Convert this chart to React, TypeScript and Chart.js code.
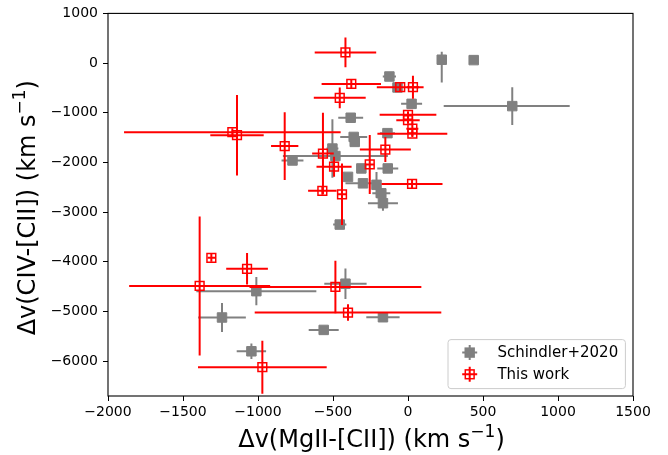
import React, { useEffect, useRef } from 'react';
import { Chart, registerables } from 'chart.js';

Chart.register(...registerables);

// ---- Data: Schindler+2020 (gray) ----
const schX = [225, 438, 695, -124, -70, 24, -382, -137, -362, -355, -504, -484, -770, -311, -135, -400, -300, -210, -178, -167, -455, -1011, -417, -1240, -562, -167, -1044];
const schY = [68, 60, -866, -270, -490, -820, -1100, -1410, -1486, -1586, -1720, -1870, -1960, -2120, -2120, -2290, -2420, -2450, -2620, -2820, -3250, -4590, -4440, -5120, -5370, -5115, -5800];
const schXErrLo = [0, 0, 457, 44, 0, 70, 83, 50, 90, 0, 40, 350, 73, 30, 70, 0, 117, 0, 60, 100, 44, 400, 141, 159, 100, 111, 98];
const schXErrHi = [0, 0, 383, 44, 0, 70, 83, 50, 90, 0, 40, 350, 73, 30, 70, 0, 117, 0, 60, 100, 44, 400, 141, 159, 100, 111, 98];
const schYErrLo = [460, 0, 380, 0, 0, 0, 0, 0, 0, 0, 590, 0, 0, 0, 0, 0, 0, 260, 0, 150, 0, 283, 307, 290, 0, 0, 157];
const schYErrHi = [160, 0, 380, 0, 0, 0, 0, 0, 0, 0, 590, 0, 0, 0, 0, 0, 0, 260, 0, 150, 0, 283, 307, 290, 0, 0, 157];

// ---- Data: This work (red) ----
const twX = [-417, -378, -455, -52, 33, 0, 0, 29, 29, -1171, -1140, -822, -567, -493, -571, -440, -255, -151, 27, -1311, -1073, -1389, -484, -400, -971];
const twY = [214, -420, -700, -486, -486, -1040, -1150, -1320, -1420, -1390, -1450, -1670, -1820, -2086, -2570, -2640, -2040, -1740, -2433, -3920, -4140, -4486, -4506, -5020, -6120];
const twXErr = [205, 198, 173, 156, 40, 189, 78, 40, 233, 722, 178, 91, 72, 117, 95, 30, 30, 170, 203, 25, 139, 470, 573, 622, 429];
const twYErr = [300, 80, 210, 80, 233, 70, 70, 150, 70, 80, 810, 683, 820, 200, 80, 620, 593, 250, 80, 80, 316, 1400, 527, 167, 533];

// ---- Axes ----
const X_MIN = -2000;
const X_MAX = 1500;
const Y_MIN = -6700;
const Y_MAX = 1000;
const X_TICKS = [-2000, -1500, -1000, -500, 0, 500, 1000, 1500];
const Y_TICKS = [1000, 0, -1000, -2000, -3000, -4000, -5000, -6000];

const LEGEND_LABELS = ['Schindler+2020', 'This work'];
const X_TITLE = ['\u0394v(MgII-[CII]) (km s', '\u22121', ')'];
const Y_TITLE = ['\u0394v(CIV-[CII]) (km s', '\u22121', ')'];

const GRAY = '#808080';
const RED = '#ff0000';
const FONT = '"DejaVu Sans", sans-serif';

const fmt = (v: number) => (v < 0 ? '\u2212' + Math.abs(v) : String(v));

const errorBarPlugin = {
  id: 'errorBars',
  beforeDatasetDraw(chart: any, args: any) {
    const ds = chart.data.datasets[args.index];
    const err = ds.errors;
    if (!err) return;
    const xs = chart.scales.x;
    const ys = chart.scales.y;
    const ctx = chart.ctx;
    const a = chart.chartArea;
    ctx.save();
    ctx.beginPath();
    ctx.rect(a.left, a.top, a.right - a.left, a.bottom - a.top);
    ctx.clip();
    ctx.strokeStyle = ds.borderColor;
    ctx.lineWidth = 2;
    ctx.lineCap = 'butt';
    ds.data.forEach((p: any, i: number) => {
      const px = xs.getPixelForValue(p.x);
      const py = ys.getPixelForValue(p.y);
      const xl = err.xLo[i];
      const xh = err.xHi[i];
      const lo = err.yLo[i];
      const hi = err.yHi[i];
      if (xl > 0 || xh > 0) {
        ctx.beginPath();
        ctx.moveTo(xs.getPixelForValue(p.x - xl), py);
        ctx.lineTo(xs.getPixelForValue(p.x + xh), py);
        ctx.stroke();
      }
      if (lo > 0 || hi > 0) {
        ctx.beginPath();
        ctx.moveTo(px, ys.getPixelForValue(p.y - lo));
        ctx.lineTo(px, ys.getPixelForValue(p.y + hi));
        ctx.stroke();
      }
    });
    ctx.restore();
  },
};

function drawTitle(ctx: CanvasRenderingContext2D, parts: string[], size: number) {
  const big = `${size}px ${FONT}`;
  const small = `${Math.round(size * 0.7)}px ${FONT}`;
  ctx.font = big;
  const w1 = ctx.measureText(parts[0]).width;
  const w3 = ctx.measureText(parts[2]).width;
  ctx.font = small;
  const w2 = ctx.measureText(parts[1]).width;
  const total = w1 + w2 + w3;
  let x = -total / 2;
  ctx.textAlign = 'left';
  ctx.textBaseline = 'alphabetic';
  ctx.font = big;
  ctx.fillText(parts[0], x, 0);
  x += w1;
  ctx.font = small;
  ctx.fillText(parts[1], x, -size * 0.42);
  x += w2;
  ctx.font = big;
  ctx.fillText(parts[2], x, 0);
}

const decorPlugin = {
  id: 'decor',
  afterDatasetsDraw(chart: any) {
    const ctx = chart.ctx as CanvasRenderingContext2D;
    const a = chart.chartArea;
    // frame
    ctx.save();
    ctx.strokeStyle = '#000';
    ctx.lineWidth = 1.1;
    ctx.strokeRect(a.left, a.top, a.right - a.left, a.bottom - a.top);
    ctx.restore();

    // legend
    ctx.save();
    const lw = 177.4;
    const lh = 49;
    const lx = a.right - 7.6 - lw;
    const ly = a.bottom - 7.4 - lh;
    ctx.beginPath();
    (ctx as any).roundRect(lx, ly, lw, lh, 3);
    ctx.fillStyle = 'rgba(255,255,255,0.8)';
    ctx.fill();
    ctx.strokeStyle = '#cccccc';
    ctx.lineWidth = 1;
    ctx.stroke();
    const mx = lx + 21.7;
    const rows = [ly + 13, ly + 34.7];
    const colors = [GRAY, RED];
    rows.forEach((ry, i) => {
      ctx.strokeStyle = colors[i];
      ctx.lineWidth = 2;
      ctx.beginPath();
      ctx.moveTo(mx - 7.5, ry);
      ctx.lineTo(mx + 7.5, ry);
      ctx.moveTo(mx, ry - 7.5);
      ctx.lineTo(mx, ry + 7.5);
      ctx.stroke();
      if (i === 0) {
        ctx.fillStyle = GRAY;
        ctx.fillRect(mx - 5.2, ry - 5.2, 10.4, 10.4);
      } else {
        ctx.lineWidth = 1.5;
        ctx.strokeRect(mx - 4.4, ry - 4.4, 8.8, 8.8);
      }
      ctx.fillStyle = '#000';
      ctx.font = `15px ${FONT}`;
      ctx.textAlign = 'left';
      ctx.textBaseline = 'middle';
      ctx.fillText(LEGEND_LABELS[i], lx + 49.4, ry + 1);
    });
    ctx.restore();

    // axis titles
    ctx.save();
    ctx.fillStyle = '#000';
    ctx.translate((a.left + a.right) / 2 + 1, 447);
    drawTitle(ctx, X_TITLE, 24);
    ctx.restore();

    ctx.save();
    ctx.fillStyle = '#000';
    ctx.translate(35, (a.top + a.bottom) / 2 + 3);
    ctx.rotate(-Math.PI / 2);
    drawTitle(ctx, Y_TITLE, 24);
    ctx.restore();
  },
};

export default function App() {
  const ref = useRef<HTMLCanvasElement | null>(null);
  useEffect(() => {
    if (!ref.current) return;
    const schData = schX.map((x, i) => ({ x, y: schY[i] }));
    const twData = twX.map((x, i) => ({ x, y: twY[i] }));
    const chart = new Chart(ref.current, {
      type: 'scatter',
      data: {
        datasets: [
          {
            label: LEGEND_LABELS[0],
            data: schData,
            order: 2,
            pointStyle: 'rect',
            pointRadius: 6.7,
            pointHoverRadius: 6.7,
            backgroundColor: GRAY,
            borderColor: GRAY,
            borderWidth: 1,
            errors: { xLo: schXErrLo, xHi: schXErrHi, yLo: schYErrLo, yHi: schYErrHi },
          } as any,
          {
            label: LEGEND_LABELS[1],
            data: twData,
            order: 1,
            pointStyle: 'rect',
            pointRadius: 6.2,
            pointHoverRadius: 6.2,
            backgroundColor: 'rgba(0,0,0,0)',
            borderColor: RED,
            borderWidth: 1.5,
            errors: { xLo: twXErr, xHi: twXErr, yLo: twYErr, yHi: twYErr },
          } as any,
        ],
      },
      options: {
        responsive: false,
        animation: false,
        events: [],
        layout: { padding: { top: 11, right: 35, left: 0, bottom: 0 } },
        plugins: {
          legend: { display: false },
          tooltip: { enabled: false },
          title: { display: false },
        },
        scales: {
          x: {
            type: 'linear',
            min: X_MIN,
            max: X_MAX,
            afterBuildTicks: (s: any) => {
              s.ticks = X_TICKS.map((v) => ({ value: v }));
            },
            afterFit: (s: any) => {
              s.height = 59;
            },
            border: { display: false },
            grid: {
              drawOnChartArea: false,
              drawTicks: true,
              tickLength: 5,
              tickColor: '#000',
              tickWidth: 1,
            },
            ticks: {
              autoSkip: false,
              maxRotation: 0,
              color: '#000',
              padding: 3,
              font: { family: FONT, size: 14 },
              callback: (v: any) => fmt(Number(v)),
            },
          },
          y: {
            type: 'linear',
            min: Y_MIN,
            max: Y_MAX,
            afterBuildTicks: (s: any) => {
              s.ticks = Y_TICKS.map((v) => ({ value: v }));
            },
            afterFit: (s: any) => {
              s.width = 108;
            },
            border: { display: false },
            grid: {
              drawOnChartArea: false,
              drawTicks: true,
              tickLength: 5,
              tickColor: '#000',
              tickWidth: 1,
            },
            ticks: {
              autoSkip: false,
              color: '#000',
              padding: 5,
              font: { family: FONT, size: 14 },
              callback: (v: any) => fmt(Number(v)),
            },
          },
        },
      },
      plugins: [errorBarPlugin, decorPlugin],
    } as any);
    return () => chart.destroy();
  }, []);

  return (
    <div style={{ position: 'absolute', left: 0, top: 0, width: 668, height: 455, background: '#fff' }}>
      <canvas ref={ref} width={668} height={455} style={{ display: 'block' }} />
    </div>
  );
}
